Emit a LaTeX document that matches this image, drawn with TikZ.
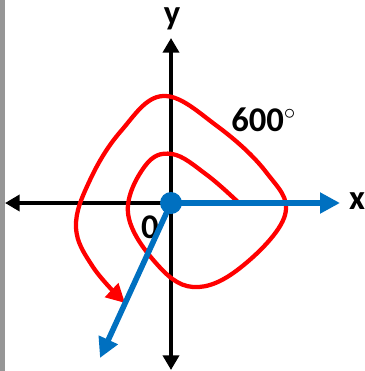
\documentclass[tikz,border=0pt]{standalone}
\usepackage{fontspec}
\setmainfont{Carlito}
\usetikzlibrary{arrows.meta}
\definecolor{rayblue}{RGB}{0,112,192}
\definecolor{barg}{RGB}{150,150,150}
\begin{document}
\begin{tikzpicture}[x=0.75pt,y=-0.75pt,
  axis/.style={line width=3.6pt,-{Triangle[width=12pt,length=11pt]}},
  ray/.style={line width=4.2pt,rayblue,-{Triangle[width=15pt,length=15pt]}},
  spiral/.style={line width=3.2pt,red,line join=round},
  lbl/.style={font=\fontsize{26}{28}\selectfont\bfseries,inner sep=0pt}]
\useasboundingbox (0,0) rectangle (364,371);
\fill[barg] (0,0) rectangle (5,371);
\coordinate (O) at (171,203);
\coordinate (xl) at (5,203);
\coordinate (xr) at (340,203);
\coordinate (yt) at (171,38);
\coordinate (yb) at (171,370);
\coordinate (rt) at (100,358);
\node[lbl] (ylab) at (172,19) {y};
\node[lbl] (xlab) at (357,201) {x};
\node[lbl] (zero) at (150,227) {0};
\node[lbl,anchor=west] (ang) at (231,120) {600$^{\circ}$};
\draw[axis] (O) -- (xl);
\draw[axis] (O) -- (yt);
\draw[axis] (O) -- (yb);
\draw[spiral,-{Triangle[width=14pt,length=14pt]}] plot[smooth,tension=0.65] coordinates {
 (240,204) (207,175) (172,154) (145,166) (128,213) (155,262) (193,287)
 (240,268) (285,215) (266,172) (217,126) (163,96) (121,131) (90,180)
 (76,227) (93,267) (125,303)};
\draw[ray] (O) -- (xr);
\draw[ray] (O) -- (rt);
\fill[rayblue] (O) circle (11);
\end{tikzpicture}
\end{document}
